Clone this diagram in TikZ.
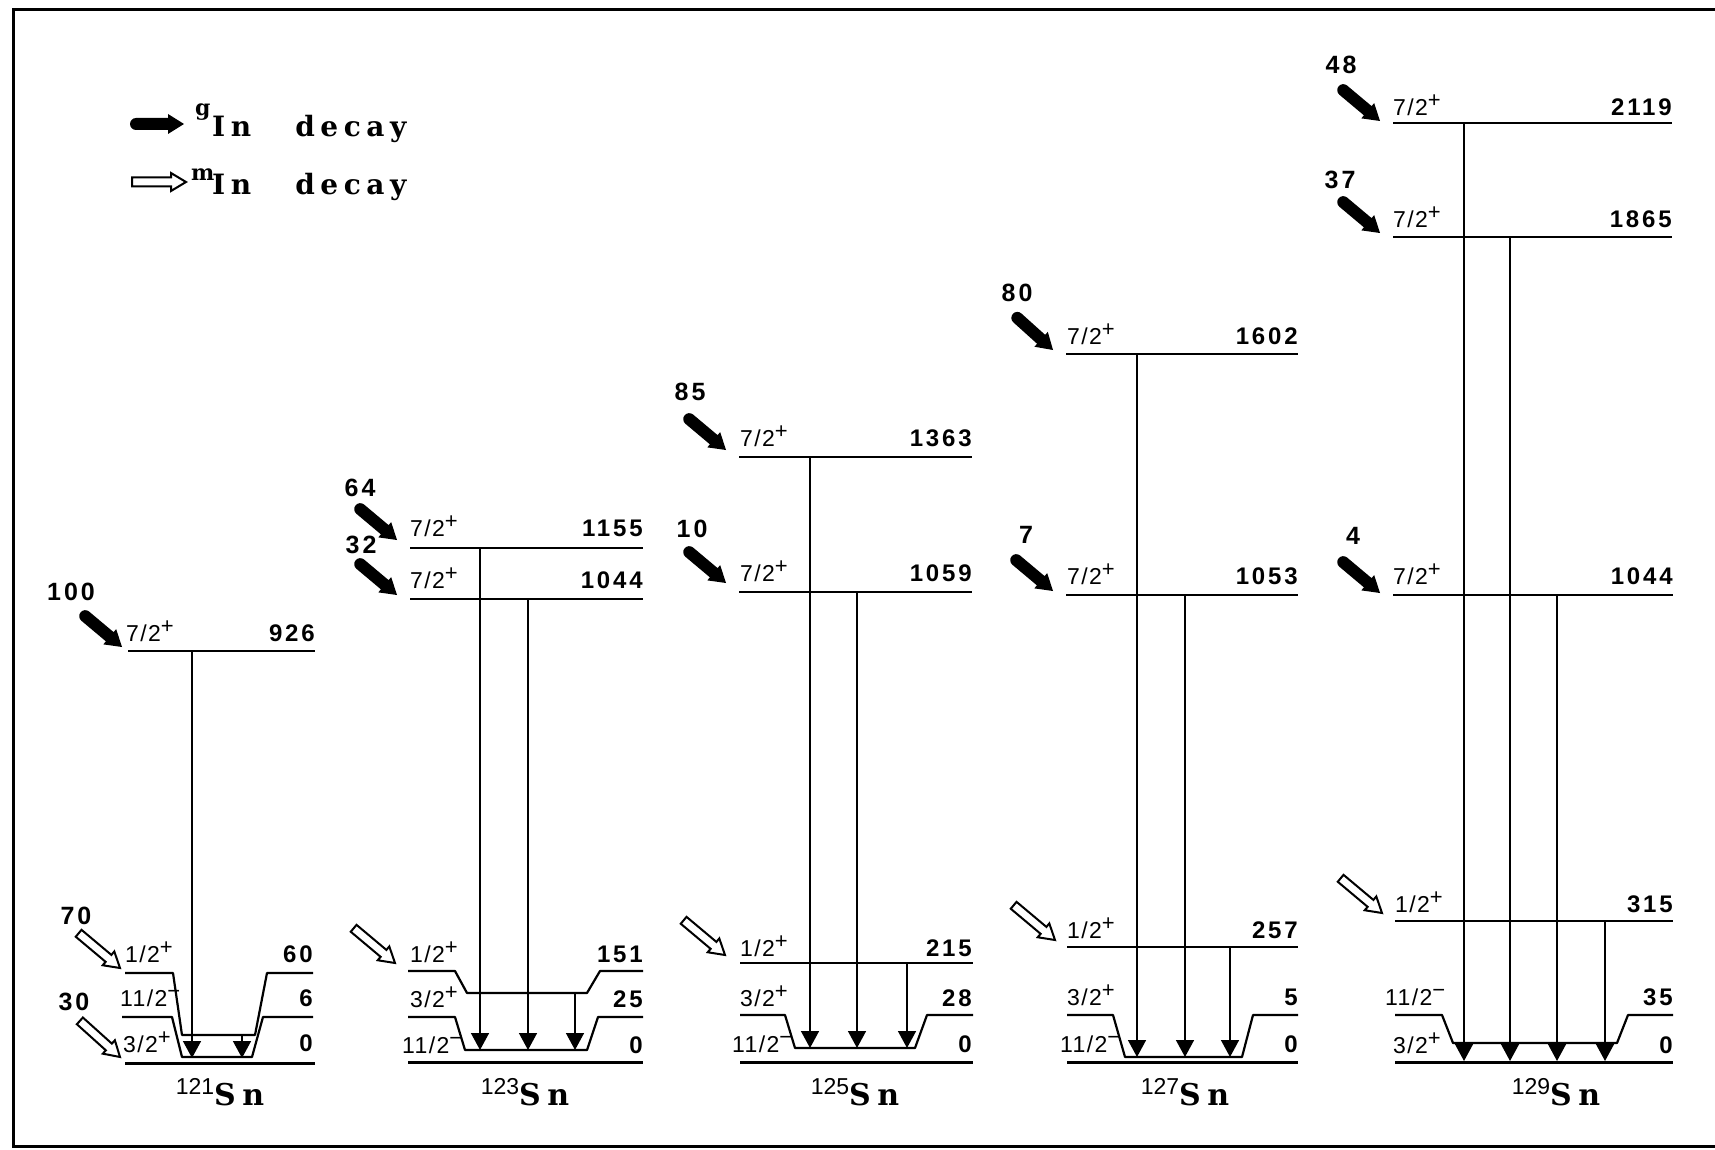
\documentclass[tikz,border=0pt]{standalone}
\usepackage{fontspec}
\usepackage{tikz}
\usetikzlibrary{arrows.meta}

\newfontfamily\numfont[LetterSpace=12]{Liberation Sans}
\newfontfamily\spinfont[LetterSpace=6]{Liberation Sans}
\newfontfamily\massfont{Liberation Sans}
\newfontfamily\slabfont[LetterSpace=22]{DejaVu Serif}
\newfontfamily\legfont[LetterSpace=20]{DejaVu Serif}
\newcommand{\jp}[2]{#1\raisebox{8pt}{\fontsize{22}{22}\selectfont #2}}

\tikzset{
  lvl/.style={line width=2.2pt, line join=round},
  gnd/.style={line width=3pt},
  gam/.style={line width=1.5pt, -{Triangle[length=17pt,width=18pt]}},
  en/.style={anchor=base east, inner sep=0pt, font=\numfont\bfseries\fontsize{24}{26}\selectfont},
  jlab/.style={anchor=base west, inner sep=0pt, font=\spinfont\fontsize{23}{25}\selectfont},
  inten/.style={inner sep=0pt, font=\numfont\bfseries\fontsize{25}{27}\selectfont},
  iso/.style={anchor=base, inner sep=0pt, font=\slabfont\bfseries\fontsize{30}{32}\selectfont},
  leg/.style={anchor=base west, inner sep=0pt, font=\legfont\bfseries\fontsize{28}{30}\selectfont},
  pics/gin/.style={code={
    \fill (0,0) -- (-16,10) -- (-16,6) -- (-48,6) arc (90:270:6) -- (-16,-6) -- (-16,-10) -- cycle;}},
  pics/min/.style={code={
    \draw[line width=2pt, fill=white] (0,0) -- (-15,-9) -- (-15,-4.5) -- (-54,-4.5)
      -- (-54,4.5) -- (-15,4.5) -- (-15,9) -- cycle;}},
}

\begin{document}
\begin{tikzpicture}[x=1pt, y=-1pt]
  \useasboundingbox (0,0) rectangle (1715,1150);
  % Frame
  \draw[line width=3pt] (1715,10) -- (13,10) -- (13,1146) -- (1715,1146);

  % Legend
  \pic at (184,124) {gin};
  \node[leg, font=\legfont\bfseries\fontsize{22}{24}\selectfont] (gsup) at (195,116) {g};
  \node[leg] (gtxt) at (212,137) {In\hspace{44pt}decay};
  \pic at (186,182) {min};
  \node[leg, font=\legfont\bfseries\fontsize{22}{24}\selectfont] (msup) at (191,181) {m};
  \node[leg] (mtxt) at (212,195) {In\hspace{44pt}decay};

  % 121Sn
  \draw[lvl] (128,651) -- (315,651);
  \draw[lvl] (125,973) -- (173,973) -- (182,1035) -- (255,1035) -- (267,973) -- (313,973);
  \draw[lvl] (122,1017) -- (172,1017) -- (182,1057) -- (252,1057) -- (263,1017) -- (313,1017);
  \draw[gnd] (125,1063) -- (315,1063);
  \draw[gam] (192,651) -- (192,1058);
  \draw[gam] (242,1035) -- (242,1058);
  \node[jlab] (ja1) at (126,641) {\jp{7/2}{+}};
  \node[en] (ea1) at (315,641) {926};
  \node[jlab] (ja2) at (125,962) {\jp{1/2}{+}};
  \node[en] (ea2) at (313,962) {60};
  \node[jlab] (ja3) at (120,1006) {\jp{11/2}{−}};
  \node[en] (ea3) at (313,1006) {6};
  \node[jlab] (ja4) at (123,1052) {\jp{3/2}{+}};
  \node[en] (ea4) at (313,1051) {0};
  \pic[rotate=-40] at (122,647) {gin};
  \node[inten] (ia1) at (71,592) {100};
  \pic[rotate=-40] at (120,968) {min};
  \node[inten] (ia2) at (76,916) {70};
  \pic[rotate=-42] at (120,1057) {min};
  \node[inten] (ia3) at (74,1002) {30};
  \node[iso] (sn121) at (220,1105) {{\massfont\mdseries\fontsize{23}{23}\selectfont\raisebox{11pt}{121}}Sn};

  % 123Sn
  \draw[lvl] (410,548) -- (643,548);
  \draw[lvl] (410,599) -- (643,599);
  \draw[lvl] (408,971) -- (455,971) -- (467,993) -- (587,993) -- (600,971) -- (643,971);
  \draw[lvl] (408,1017) -- (455,1017) -- (465,1050) -- (587,1050) -- (598,1017) -- (643,1017);
  \draw[gnd] (408,1062) -- (643,1062);
  \draw[gam] (480,548) -- (480,1050);
  \draw[gam] (528,599) -- (528,1050);
  \draw[gam] (575,993) -- (575,1050);
  \node[jlab] (jb1) at (410,536) {\jp{7/2}{+}};
  \node[en] (eb1) at (643,536) {1155};
  \node[jlab] (jb2) at (410,588) {\jp{7/2}{+}};
  \node[en] (eb2) at (643,588) {1044};
  \node[jlab] (jb3) at (410,962) {\jp{1/2}{+}};
  \node[en] (eb3) at (643,962) {151};
  \node[jlab] (jb4) at (410,1007) {\jp{3/2}{+}};
  \node[en] (eb4) at (643,1007) {25};
  \node[jlab] (jb5) at (402,1053) {\jp{11/2}{−}};
  \node[en] (eb5) at (643,1053) {0};
  \pic[rotate=-40] at (397,540) {gin};
  \node[inten] (ib1) at (360,488) {64};
  \pic[rotate=-40] at (397,595) {gin};
  \node[inten] (ib2) at (361,545) {32};
  \pic[rotate=-40] at (395,963) {min};
  \node[iso] (sn123) at (525,1105) {{\massfont\mdseries\fontsize{23}{23}\selectfont\raisebox{11pt}{123}}Sn};

  % 125Sn
  \draw[lvl] (739,457) -- (972,457);
  \draw[lvl] (739,592) -- (972,592);
  \draw[lvl] (740,963) -- (973,963);
  \draw[lvl] (740,1015) -- (785,1015) -- (795,1048) -- (915,1048) -- (927,1015) -- (973,1015);
  \draw[gnd] (740,1062) -- (973,1062);
  \draw[gam] (810,457) -- (810,1048);
  \draw[gam] (857,592) -- (857,1048);
  \draw[gam] (907,963) -- (907,1048);
  \node[jlab] (jc1) at (740,446) {\jp{7/2}{+}};
  \node[en] (ec1) at (972,446) {1363};
  \node[jlab] (jc2) at (740,581) {\jp{7/2}{+}};
  \node[en] (ec2) at (972,581) {1059};
  \node[jlab] (jc3) at (740,956) {\jp{1/2}{+}};
  \node[en] (ec3) at (972,956) {215};
  \node[jlab] (jc4) at (740,1006) {\jp{3/2}{+}};
  \node[en] (ec4) at (972,1006) {28};
  \node[jlab] (jc5) at (732,1052) {\jp{11/2}{−}};
  \node[en] (ec5) at (972,1052) {0};
  \pic[rotate=-40] at (726,450) {gin};
  \node[inten] (ic1) at (690,392) {85};
  \pic[rotate=-40] at (726,583) {gin};
  \node[inten] (ic2) at (692,529) {10};
  \pic[rotate=-40] at (725,955) {min};
  \node[iso] (sn125) at (855,1105) {{\massfont\mdseries\fontsize{23}{23}\selectfont\raisebox{11pt}{125}}Sn};

  % 127Sn
  \draw[lvl] (1066,354) -- (1298,354);
  \draw[lvl] (1066,595) -- (1298,595);
  \draw[lvl] (1067,947) -- (1298,947);
  \draw[lvl] (1067,1015) -- (1113,1015) -- (1125,1057) -- (1242,1057) -- (1253,1015) -- (1298,1015);
  \draw[gnd] (1067,1062) -- (1298,1062);
  \draw[gam] (1137,354) -- (1137,1057);
  \draw[gam] (1185,595) -- (1185,1057);
  \draw[gam] (1230,947) -- (1230,1057);
  \node[jlab] (jd1) at (1067,344) {\jp{7/2}{+}};
  \node[en] (ed1) at (1298,344) {1602};
  \node[jlab] (jd2) at (1067,584) {\jp{7/2}{+}};
  \node[en] (ed2) at (1298,584) {1053};
  \node[jlab] (jd3) at (1067,938) {\jp{1/2}{+}};
  \node[en] (ed3) at (1298,938) {257};
  \node[jlab] (jd4) at (1067,1005) {\jp{3/2}{+}};
  \node[en] (ed4) at (1298,1005) {5};
  \node[jlab] (jd5) at (1060,1052) {\jp{11/2}{−}};
  \node[en] (ed5) at (1298,1052) {0};
  \pic[rotate=-42] at (1053,350) {gin};
  \node[inten] (id1) at (1017,293) {80};
  \pic[rotate=-40] at (1053,591) {gin};
  \node[inten] (id2) at (1026,535) {7};
  \pic[rotate=-40] at (1055,940) {min};
  \node[iso] (sn127) at (1185,1105) {{\massfont\mdseries\fontsize{23}{23}\selectfont\raisebox{11pt}{127}}Sn};

  % 129Sn
  \draw[lvl] (1393,123) -- (1672,123);
  \draw[lvl] (1393,237) -- (1672,237);
  \draw[lvl] (1393,595) -- (1673,595);
  \draw[lvl] (1395,921) -- (1673,921);
  \draw[lvl] (1395,1015) -- (1442,1015) -- (1453,1043) -- (1617,1043) -- (1628,1015) -- (1673,1015);
  \draw[gnd] (1395,1062) -- (1673,1062);
  \draw[gam] (1464,123) -- (1464,1061);
  \draw[gam] (1510,237) -- (1510,1061);
  \draw[gam] (1557,595) -- (1557,1061);
  \draw[gam] (1605,921) -- (1605,1061);
  \node[jlab] (je1) at (1393,116) {\jp{7/2}{+}};
  \node[en] (ee1) at (1672,116) {2119};
  \node[jlab] (je2) at (1393,228) {\jp{7/2}{+}};
  \node[en] (ee2) at (1672,228) {1865};
  \node[jlab] (je3) at (1393,584) {\jp{7/2}{+}};
  \node[en] (ee3) at (1673,584) {1044};
  \node[jlab] (je4) at (1395,912) {\jp{1/2}{+}};
  \node[en] (ee4) at (1673,912) {315};
  \node[jlab] (je5) at (1385,1005) {\jp{11/2}{−}};
  \node[en] (ee5) at (1673,1005) {35};
  \node[jlab] (je6) at (1393,1053) {\jp{3/2}{+}};
  \node[en] (ee6) at (1673,1053) {0};
  \pic[rotate=-40] at (1380,121) {gin};
  \node[inten] (ie1) at (1341,65) {48};
  \pic[rotate=-40] at (1380,233) {gin};
  \node[inten] (ie2) at (1340,180) {37};
  \pic[rotate=-40] at (1380,593) {gin};
  \node[inten] (ie3) at (1353,536) {4};
  \pic[rotate=-40] at (1382,913) {min};
  \node[iso] (sn129) at (1556,1105) {{\massfont\mdseries\fontsize{23}{23}\selectfont\raisebox{11pt}{129}}Sn};
\end{tikzpicture}
\end{document}
